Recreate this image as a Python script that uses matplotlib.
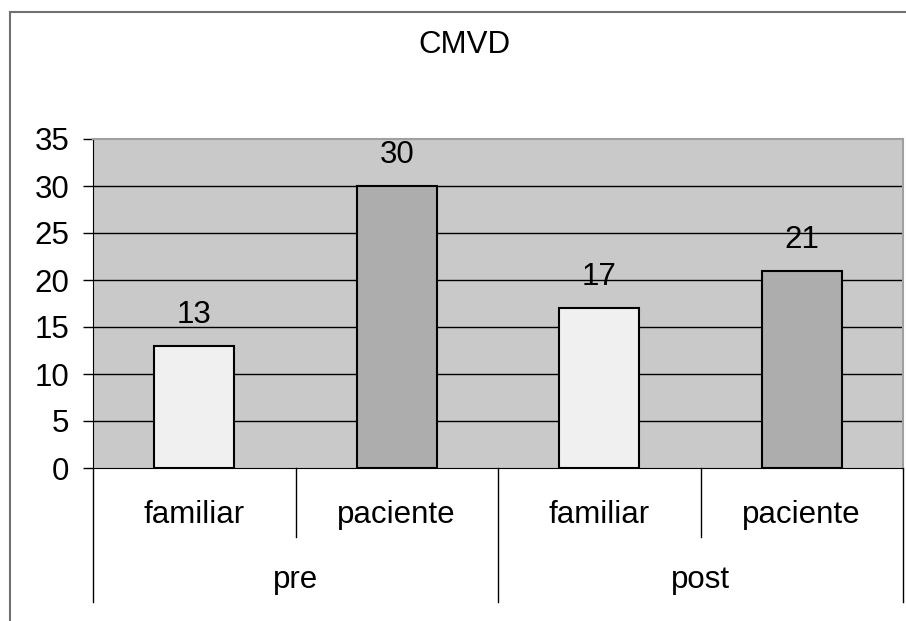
import matplotlib
matplotlib.use('Agg')
import matplotlib.pyplot as plt
import matplotlib.patches as patches
import matplotlib.transforms as mtransforms

plt.rcParams['font.family'] = ['Liberation Sans', 'DejaVu Sans']

# datos
groups = ['pre', 'post']
subgroups = ['familiar', 'paciente']
values = [13, 30, 17, 21]
bar_colors = ['#F0F0F0', '#ADADAD', '#F0F0F0', '#ADADAD']
yticks = [0, 5, 10, 15, 20, 25, 30, 35]

FS = 22.5

fig = plt.figure(figsize=(9.06, 6.21), dpi=100)
fig.patch.set_facecolor('white')

# marco exterior (cortado a la derecha y abajo)
fig.patches.append(patches.Rectangle((10 / 906, -0.2), 1.2, 1.2 - 11.5 / 621,
                                     transform=fig.transFigure, fill=False,
                                     edgecolor='#707070', linewidth=1.5))

ax = fig.add_axes([93 / 906, 1 - 468 / 621, 810 / 906, 329 / 621])
ax.set_facecolor('#C9C9C9')

x = list(range(len(values)))
ax.bar(x, values, width=0.395, color=bar_colors, edgecolor='black', linewidth=1.5, zorder=3)

ax.set_xlim(-0.5, 3.5)
ax.set_ylim(0, 35)
ax.set_yticks(yticks)
ax.set_yticklabels([str(t) for t in yticks], fontsize=FS)
ax.tick_params(axis='y', direction='out', length=7, width=1, pad=10)
ax.set_xticks([])

for t in yticks[1:-1]:
    ax.axhline(t, color='black', linewidth=1, zorder=1)

for s in ['top', 'right']:
    ax.spines[s].set_color('#A0A0A0')
    ax.spines[s].set_linewidth(1.5)
ax.spines['left'].set_color('black')
ax.spines['bottom'].set_color('black')
ax.spines['bottom'].set_zorder(4)

# etiquetas de valor
for xi, v in zip(x, values):
    ax.annotate(str(v), (xi, v), xytext=(0, 16.5), textcoords='offset points',
                ha='center', va='baseline', fontsize=FS)

fig.text(464 / 906, 1 - 45 / 621, 'CMVD', ha='center', va='center', fontsize=FS)

# eje x jerárquico
trans = mtransforms.blended_transform_factory(ax.transData, ax.transAxes)
y_inner = -(537 - 468) / 329
y_outer = -(602 - 468) / 329
for xs in [0.5, 2.5]:
    ax.plot([xs, xs], [0, y_inner], transform=trans, color='black', linewidth=1, clip_on=False)
for xs in [-0.5, 1.5, 3.5]:
    ax.plot([xs, xs], [0, y_outer], transform=trans, color='black', linewidth=1, clip_on=False)

for i, xi in enumerate(x):
    ax.text(xi, -(515 - 468) / 329, subgroups[i % 2], transform=trans,
            ha='center', va='center', fontsize=FS)
for g, name in enumerate(groups):
    ax.text(2 * g + 0.5, -(580 - 468) / 329, name, transform=trans,
            ha='center', va='center', fontsize=FS)

plt.savefig('out.png', dpi=100)
plt.close()
